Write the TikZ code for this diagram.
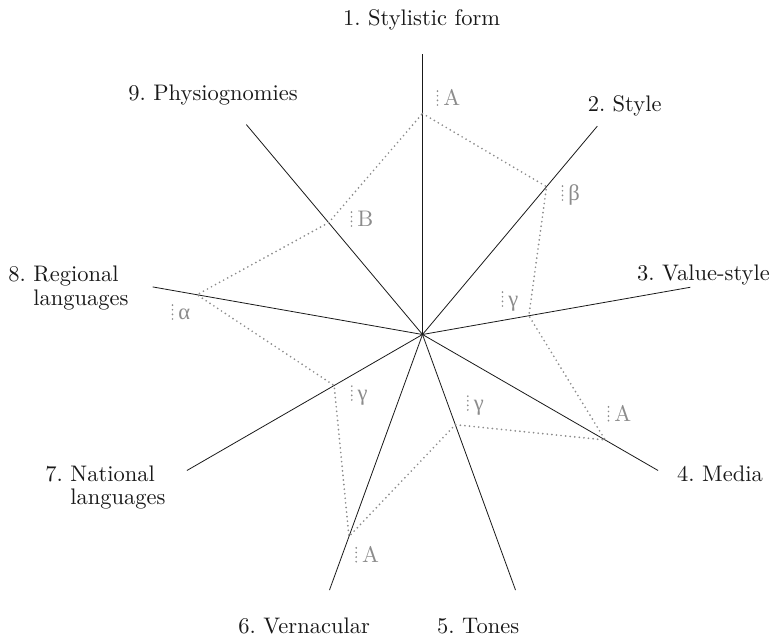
\documentclass[tikz,border=0pt]{standalone}
\usepackage{fontspec}
\newfontfamily\greekfont{Liberation Serif}
\usetikzlibrary{calc}
\definecolor{markgray}{RGB}{140,140,140}
\definecolor{inkblack}{RGB}{25,25,25}

\begin{document}
\begin{tikzpicture}[
        x=1pt, y=1pt,
        font=\fontsize{10}{10.4}\selectfont\frenchspacing,
        axis/.style={draw=inkblack, line width=0.8pt},
        spoke/.style={text=inkblack, inner sep=0pt, scale=2.25},
        grade/.style={text=markgray, inner sep=0pt, scale=2.25, anchor=base west},
        trace/.style={draw=markgray, line width=1.9pt, line cap=round, dash pattern=on 0pt off 4.6pt}
    ]
        \useasboundingbox (-422.5,-304.5) rectangle (351.5,334.5);
        \coordinate (O) at (0,0);

        % the nine axes
        \foreach \i/\a/\l in {1/90/280,2/50/272,3/10/272,4/-30/272,5/-70/272,6/-110/272,7/-150/272,8/170/274,9/130/274} {
            \coordinate (e\i) at (\a:\l);
            \draw[axis] (O) -- (e\i);
        }

        % grades on each axis
        \foreach \i/\a/\r in {1/90/221,2/50/193,3/10/108,4/-30/211,5/-70/96,6/-110/215,7/-150/102,8/170/229,9/130/146}
            \coordinate (p\i) at (\a:\r);
        \draw[trace] (p1) -- (p2) -- (p3) -- (p4) -- (p5) -- (p6) -- (p7) -- (p8) -- (p9) -- cycle;

        \foreach \n/\x/\y/\t in {g1/20.5/228.5/A, g2/145.5/133.5/{\greekfont β}, g3/85.5/27.5/{\greekfont γ},
                g4/191.5/-87.2/A, g5/50.8/-76.5/{\greekfont γ}, g6/-60.8/-228.2/A,
                g7/-65.2/-66.5/{\greekfont γ}, g8/-244.5/14.5/{\greekfont α}, g9/-65.5/107.5/B} {
            \node[grade] (\n) at (\x,\y) {\t};
            \draw[trace] ([xshift=-5.5pt,yshift=1pt]\n.base west) -- ++(0,14);
        }

        \node[spoke, anchor=base] (t1) at (-0.8,308.5) {1. Stylistic form};
        \node[spoke, anchor=base west] (t2) at (164.8,222.8) {2. Style};
        \node[spoke, anchor=base west] (t3) at (214.2,53.5) {3. Value-style};
        \node[spoke, anchor=base west] (t4) at (254.2,-147.2) {4. Media};
        \node[spoke, anchor=base west] (t5) at (14.2,-299.5) {5. Tones};
        \node[spoke, anchor=base west] (t6) at (-184.5,-299.5) {6. Vernacular};
        \node[spoke, anchor=west, align=left] (t7) at (-377.5,-153.2) {7. National\\\phantom{7.\ }languages};
        \node[spoke, anchor=west, align=left] (t8) at (-414.5,46.5) {8. Regional\\\phantom{8.\ }languages};
        \node[spoke, anchor=base west] (t9) at (-294.5,233.8) {9. Physiognomies};
    \end{tikzpicture}
\end{document}
